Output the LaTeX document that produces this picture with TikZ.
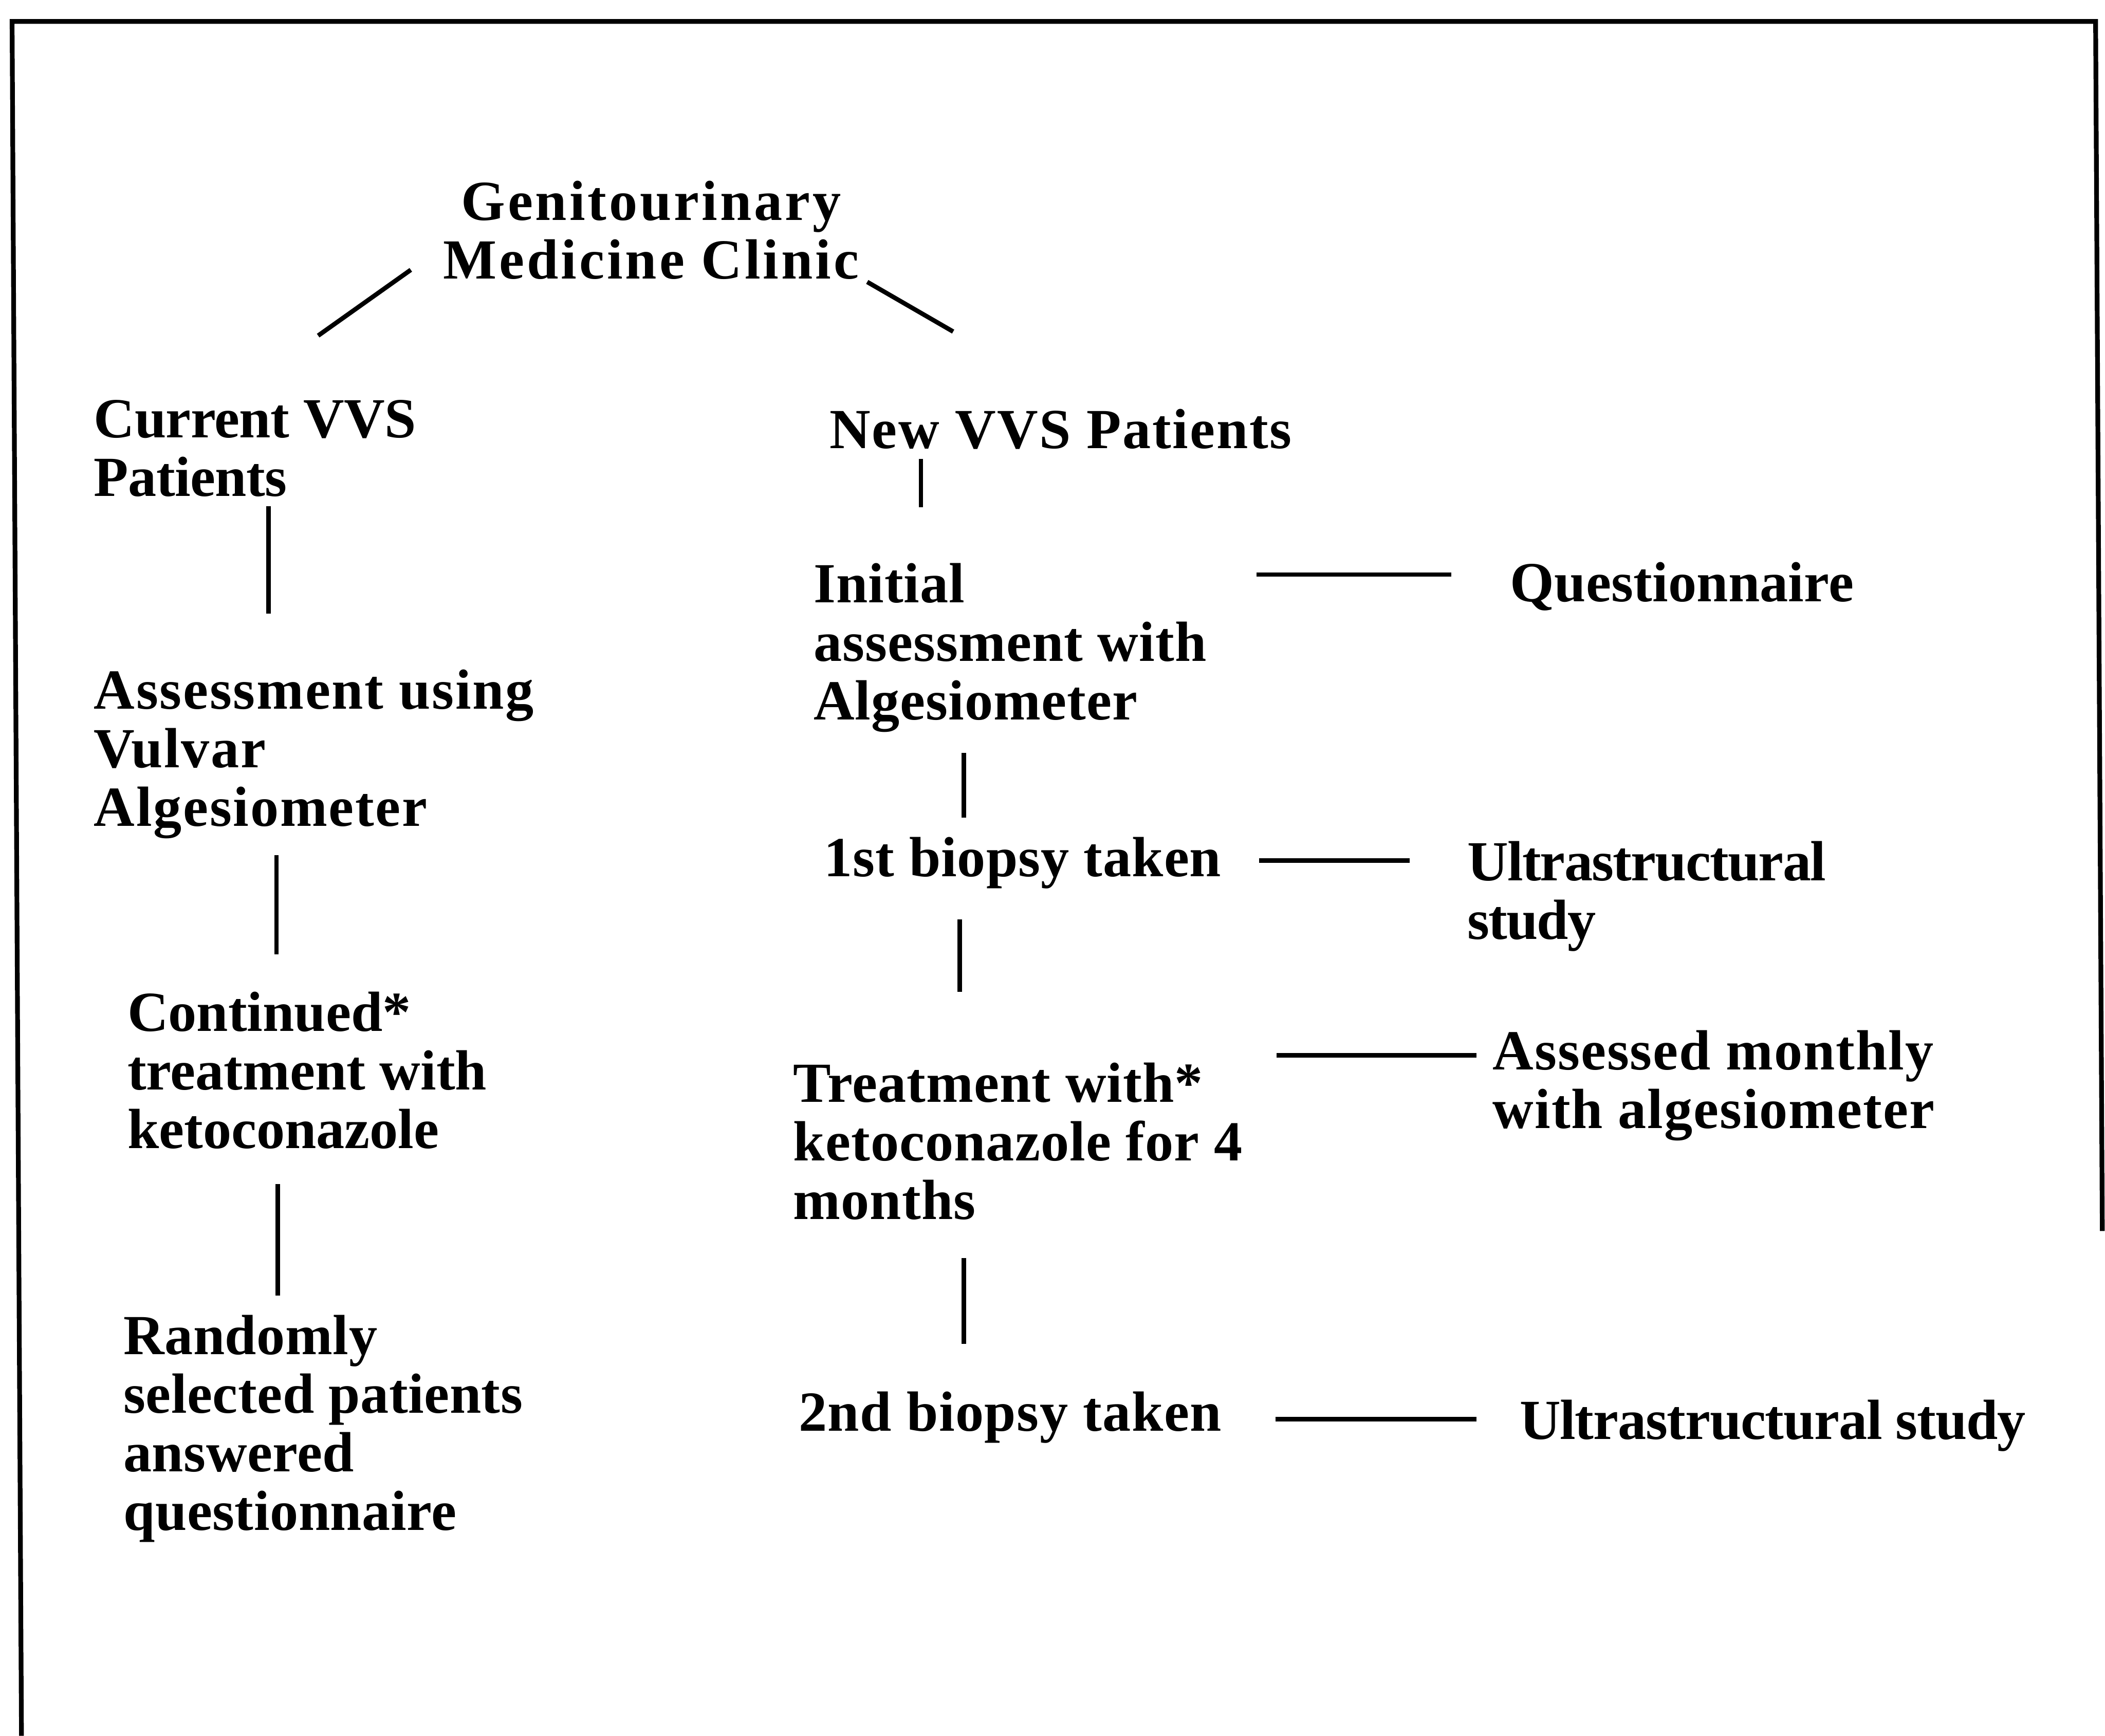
\documentclass[tikz,border=0pt]{standalone}
\usepackage{fontspec}
\setmainfont{Liberation Serif}
\newcommand{\lnsl}[1]{\begin{tabular}[t]{@{}l@{}}#1\end{tabular}}
\newcommand{\lnsc}[1]{\begin{tabular}[t]{@{}c@{}}#1\end{tabular}}
\begin{document}
\begin{tikzpicture}[x=0.01cm,y=-0.01cm,
  txt/.style={inner sep=0pt,outer sep=0pt,anchor=base west,font=\bfseries\fontsize{12}{12.4}\selectfont\addfontfeature{LetterSpace=#1}},
  txt/.default=2.5,
  ttl/.style={txt=4.5,anchor=base},
  ln/.style={line width=0.95pt,line cap=butt},
  frame/.style={line width=1pt}]
\useasboundingbox (0,0) rectangle (1568,1293);
% frame
\coordinate (f1) at (16,1293);
\coordinate (f2) at (9,16);
\coordinate (f3) at (1561,16);
\coordinate (f4) at (1566,917);
\draw[frame] (f1) -- (f2) -- (f3) -- (f4);

% title
\node[ttl] (gum) at (485,164) {\lnsc{Genitourinary\\Medicine Clinic}};

% left column
\node[txt=-0.5] (cur) at (70,326) {\lnsl{Current VVS\\Patients}};
\node[txt=2.5] (asu) at (70,528) {\lnsl{Assessment using\\Vulvar\\Algesiometer}};
\node[txt=0] (con) at (95,768) {\lnsl{Continued*\\treatment with\\ketoconazole}};
\node[txt=0.5] (ran) at (92,1009) {\lnsl{Randomly\\selected patients\\answered\\questionnaire}};

% right column
\node[txt=2.5] (new) at (618,334) {New VVS Patients};
\node[txt=1] (ini) at (606,449) {\lnsl{Initial\\assessment with\\Algesiometer}};
\node[txt=0.9] (b1) at (614,653) {1st biopsy taken};
\node[txt=1] (tre) at (591,821) {\lnsl{Treatment with*\\ketoconazole for 4\\months}};
\node[txt=1.4] (b2) at (595,1066) {2nd biopsy taken};

% far right
\node[txt=0.2] (que) at (1125,448) {Questionnaire};
\node[txt=-1.6] (us1) at (1093,656) {\lnsl{Ultrastructural\\study}};
\node[txt=1.8] (asm) at (1112,797) {\lnsl{Assessed monthly\\with algesiometer}};
\node[txt=-1.1] (us2) at (1132,1072) {Ultrastructural study};

% connector end points
\coordinate (d1a) at (306,201); \coordinate (d1b) at (237,250);
\coordinate (d2a) at (646,210); \coordinate (d2b) at (710,247);
\coordinate (l1a) at (200,377); \coordinate (l1b) at (200,457);
\coordinate (l2a) at (206,637); \coordinate (l2b) at (206,711);
\coordinate (l3a) at (207,882); \coordinate (l3b) at (207,965);
\coordinate (r1a) at (686,342); \coordinate (r1b) at (686,378);
\coordinate (r2a) at (718,561); \coordinate (r2b) at (718,609);
\coordinate (r3a) at (715,685); \coordinate (r3b) at (715,739);
\coordinate (r4a) at (718,937); \coordinate (r4b) at (718,1001);
\coordinate (h1a) at (936,428); \coordinate (h1b) at (1081,428);
\coordinate (h2a) at (938,641); \coordinate (h2b) at (1050,641);
\coordinate (h3a) at (951,786); \coordinate (h3b) at (1100,786);
\coordinate (h4a) at (950,1057); \coordinate (h4b) at (1100,1057);

\draw[ln] (d1a) -- (d1b);
\draw[ln] (d2a) -- (d2b);
\draw[ln] (l1a) -- (l1b);
\draw[ln] (l2a) -- (l2b);
\draw[ln] (l3a) -- (l3b);
\draw[ln] (r1a) -- (r1b);
\draw[ln] (r2a) -- (r2b);
\draw[ln] (r3a) -- (r3b);
\draw[ln] (r4a) -- (r4b);
\draw[ln] (h1a) -- (h1b);
\draw[ln] (h2a) -- (h2b);
\draw[ln] (h3a) -- (h3b);
\draw[ln] (h4a) -- (h4b);
\end{tikzpicture}
\end{document}
